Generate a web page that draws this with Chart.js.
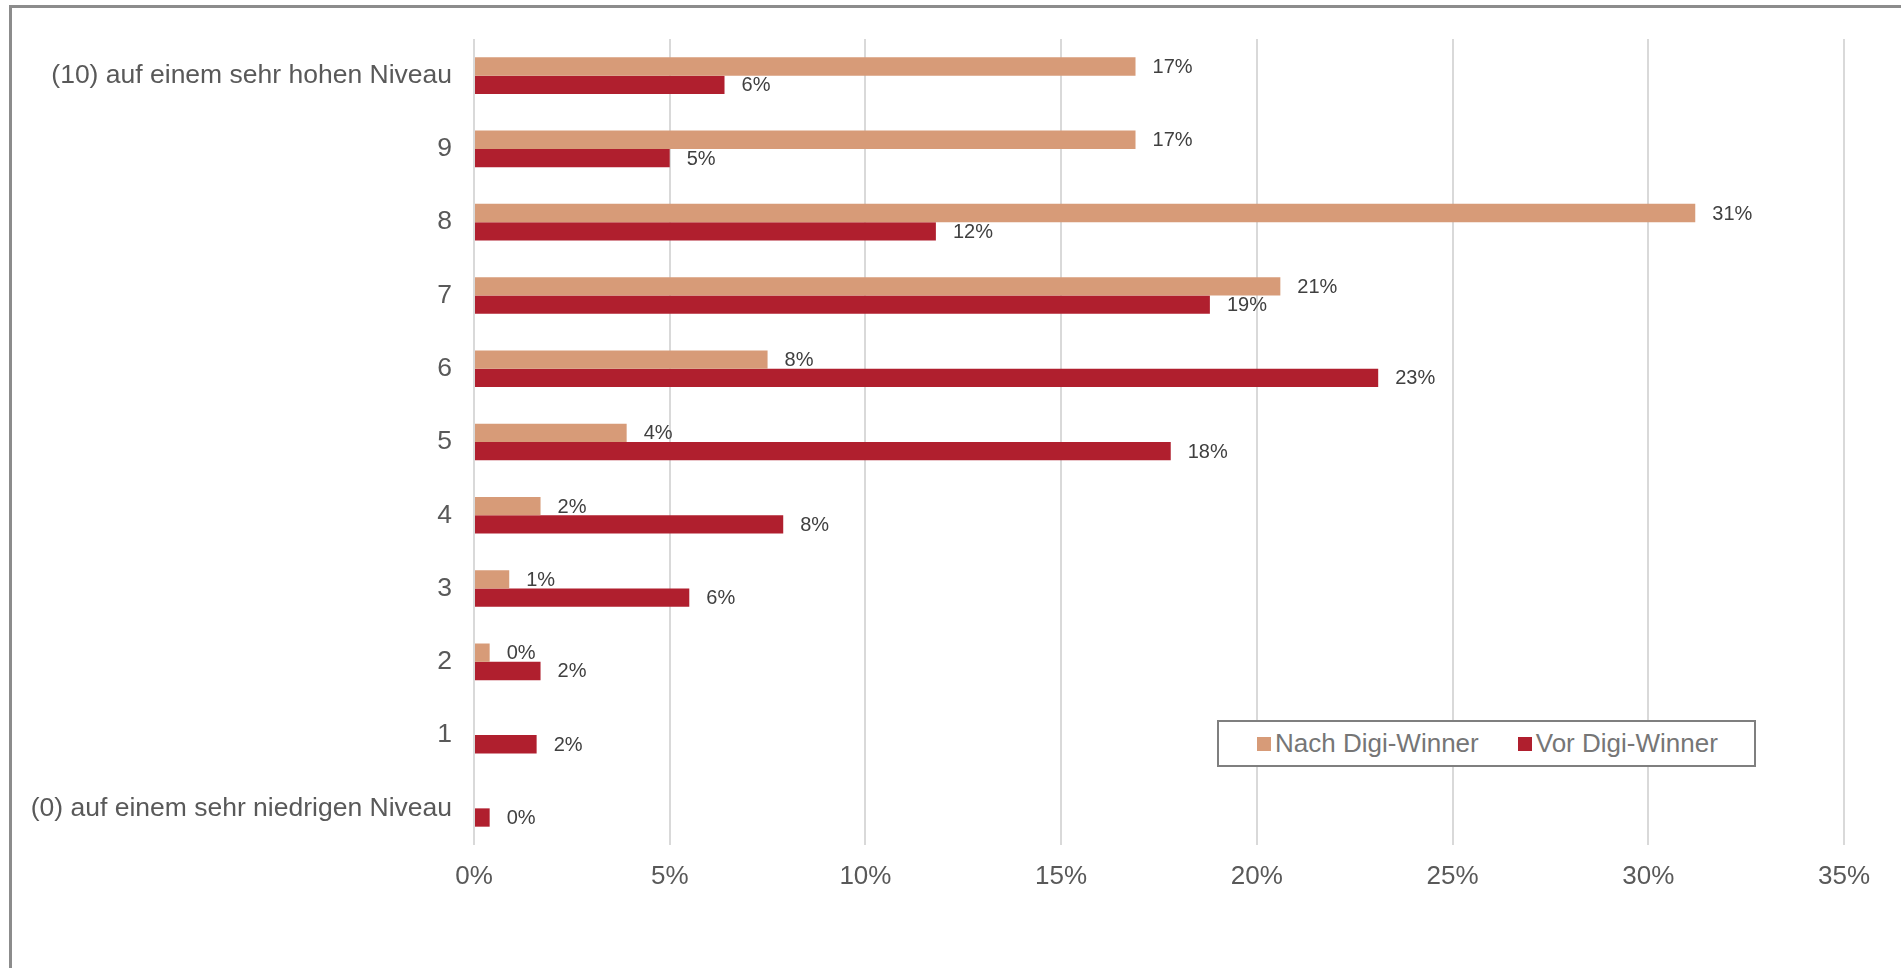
<!DOCTYPE html>
<html lang="de">
<head>
<meta charset="utf-8">
<title>Digi-Winner</title>
<script src="https://cdn.jsdelivr.net/npm/chart.js@4.4.1/dist/chart.umd.min.js"></script>
<style>
    html, body { margin: 0; padding: 0; background: #ffffff; }
    #wrap { position: relative; width: 1901px; height: 968px; overflow: hidden; font-family: "Liberation Sans", Arial, sans-serif; }
    #frame { position: absolute; left: 9px; top: 5px; width: 2000px; height: 2000px; border-left: 3px solid #8c8c8c; border-top: 3px solid #8c8c8c; }
    #legend { position: absolute; left: 1217px; top: 720px; width: 539px; height: 47px; box-sizing: border-box; border: 2px solid #7f7f7f; display: flex; align-items: center; padding-left: 38px; background: #fff; white-space: nowrap; }
    .leg-item { display: flex; align-items: center; flex-shrink: 0; margin-right: 39px; font-size: 26px; color: #767676; }
    .leg-box { width: 14px; height: 14px; margin-right: 4px; flex-shrink: 0; }
</style>
</head>
<body>
<div id="wrap">
    <div id="frame"></div>
    <canvas id="chart"></canvas>
    <div id="legend"></div>
</div>
<script>
// Kategorien von oben nach unten
const kategorien = [
    "(10) auf einem sehr hohen Niveau", "9", "8", "7", "6", "5",
    "4", "3", "2", "1", "(0) auf einem sehr niedrigen Niveau"
];

// Werte in Prozent
const nachWerte = [16.9, 16.9, 31.2, 20.6, 7.5, 3.9, 1.7, 0.9, 0.4, null, null];
const vorWerte = [6.4, 5.0, 11.8, 18.8, 23.1, 17.8, 7.9, 5.5, 1.7, 1.6, 0.4];

const serien = ["Nach Digi-Winner", "Vor Digi-Winner"];
const farben = ["#D79B78", "#B01F2E"];

const xMax = 35;
const xStep = 5;

// Wertelabels rechts neben den Balken
const wertLabels = {
    id: 'wertLabels',
    afterDatasetsDraw(chart) {
        const ctx = chart.ctx;
        ctx.save();
        ctx.font = '20px "Liberation Sans", Arial, sans-serif';
        ctx.fillStyle = '#404040';
        ctx.textAlign = 'left';
        ctx.textBaseline = 'middle';
        chart.data.datasets.forEach((ds, i) => {
            const meta = chart.getDatasetMeta(i);
            meta.data.forEach((bar, j) => {
                const v = ds.data[j];
                if (v === null || v === undefined) return;
                ctx.fillText(Math.round(v) + '%', bar.x + 17, bar.y + 1);
            });
        });
        ctx.restore();
    }
};

const chart = new Chart(document.getElementById('chart'), {
    type: 'bar',
    data: {
        labels: kategorien,
        datasets: [
            { label: serien[0], data: nachWerte, backgroundColor: farben[0] },
            { label: serien[1], data: vorWerte, backgroundColor: farben[1] }
        ]
    },
    options: {
        indexAxis: 'y',
        responsive: true,
        maintainAspectRatio: false,
        animation: false,
        categoryPercentage: 0.5,
        barPercentage: 1.0,
        layout: { padding: { left: 0, right: 57, top: 39, bottom: 0 } },
        plugins: {
            legend: { display: false },
            tooltip: { enabled: false }
        },
        scales: {
            x: {
                min: 0,
                max: xMax,
                ticks: {
                    stepSize: xStep,
                    padding: 16,
                    color: '#595959',
                    font: { family: '"Liberation Sans", Arial, sans-serif', size: 26 },
                    callback: v => v + '%'
                },
                grid: { color: '#d9d9d9', lineWidth: 2, drawTicks: false },
                border: { display: false },
                afterFit(scale) { scale.height = 123; }
            },
            y: {
                ticks: {
                    padding: 22,
                    color: '#595959',
                    font: { family: '"Liberation Sans", Arial, sans-serif', size: 26.5 }
                },
                grid: { display: false, drawTicks: false },
                border: { display: false },
                afterFit(scale) { scale.width = 474; }
            }
        }
    },
    plugins: [wertLabels]
});

// Legende als HTML aus den Datensaetzen
const legendEl = document.getElementById('legend');
chart.data.datasets.forEach(ds => {
    const item = document.createElement('div');
    item.className = 'leg-item';
    const box = document.createElement('span');
    box.className = 'leg-box';
    box.style.background = ds.backgroundColor;
    const txt = document.createElement('span');
    txt.textContent = ds.label;
    item.appendChild(box);
    item.appendChild(txt);
    legendEl.appendChild(item);
});
</script>
</body>
</html>
